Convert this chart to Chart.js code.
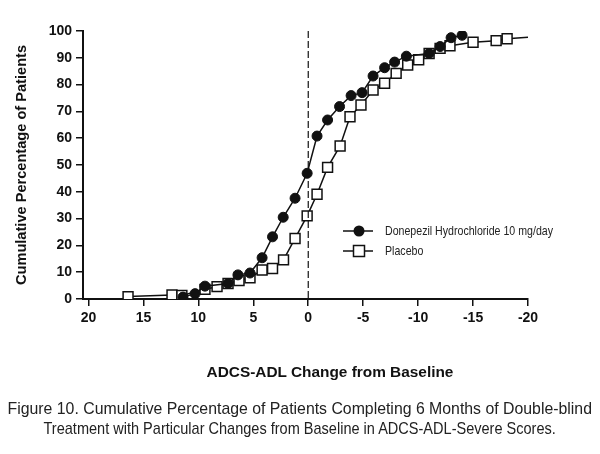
<!DOCTYPE html>
<html>
<head>
<meta charset="utf-8">
<script src="https://cdn.jsdelivr.net/npm/chart.js@4/dist/chart.umd.min.js"></script>
<style>
    html, body { margin: 0; padding: 0; background: #fff; }
    #wrap { position: relative; width: 600px; height: 454px; overflow: hidden; }
    #chart { position: absolute; left: 0; top: 0; }
    .xtitle {
        position: absolute; left: 0; top: 363px; width: 660px;
        text-align: center; font: bold 15.4px "Liberation Sans", Arial, sans-serif; color: #111;
    }
    .caption {
        position: absolute; left: -200px; top: 399px; width: 1000px;
        text-align: center; line-height: 22px; color: #222;
        font: 17px "Liberation Sans", Arial, sans-serif;
    }
    .caption span { display: inline-block; white-space: nowrap; transform-origin: 50% 50%; }
</style>
</head>
<body>
<div id="wrap">
    <canvas id="chart" width="600" height="454"></canvas>
    <div class="xtitle">ADCS-ADL Change from Baseline</div>
    <div class="caption"><span id="cap1">Figure 10. Cumulative Percentage of Patients Completing 6 Months of Double-blind</span><br><span id="cap2">Treatment with Particular Changes from Baseline in ADCS-ADL-Severe Scores.</span></div>
</div>
<script>
// Values (x = change from baseline, y = cumulative %)
var donepezilX = [11.4, 10.3, 9.4, 7.3, 6.4, 5.3, 4.2, 3.25, 2.28, 1.2, 0.1, -0.8, -1.76, -2.85, -3.9, -4.9, -5.9, -6.95, -7.86, -8.93, -11.0, -12.0, -13.0, -14.0];
var donepezilY = [0.7, 2.0, 4.8, 5.8, 9.0, 9.7, 15.4, 23.2, 30.5, 37.6, 46.9, 60.8, 66.8, 71.8, 75.9, 77.0, 83.2, 86.3, 88.4, 90.6, 91.6, 94.2, 97.5, 98.4];

var placeboX = [16.4, 12.4, 11.5, 9.4, 8.3, 7.3, 6.3, 5.3, 4.2, 3.25, 2.25, 1.2, 0.1, -0.8, -1.76, -2.9, -3.8, -4.8, -5.9, -6.95, -8.0, -9.05, -10.05, -11.0, -12.0, -12.9, -15.0, -17.1, -18.1, -20.0];
var placeboY = [0.9, 1.5, 1.3, 3.6, 4.6, 5.8, 6.9, 7.9, 10.8, 11.4, 14.6, 22.6, 31.0, 39.1, 49.1, 57.1, 68.0, 72.4, 78.0, 80.5, 84.2, 87.3, 89.3, 91.6, 93.5, 94.5, 95.8, 96.4, 97.1, 97.7];

var legendLabels = ['Donepezil Hydrochloride 10 mg/day', 'Placebo'];

var xTicksStep = 5;
var yTicksStep = 10;

(function () {
    'use strict';

    function toPoints(xs, ys) {
        return xs.map(function (x, i) { return { x: x, y: ys[i] }; });
    }

    // squeeze caption lines into the narrow look of the original
    var cap1 = document.getElementById('cap1');
    var cap2 = document.getElementById('cap2');
    cap1.style.transform = 'scaleX(' + (584 / cap1.offsetWidth) + ')';
    cap2.style.transform = 'scaleX(' + (512 / cap2.offsetWidth) + ')';

    var INK = '#111';
    var tickFont = { family: '"Liberation Sans", Arial, sans-serif', size: 14, weight: 'bold' };

    // dashed reference line at zero change + legend
    var extras = {
        id: 'extras',
        afterDatasetsDraw: function (chart) {
            var ctx = chart.ctx;
            var area = chart.chartArea;
            var x0 = chart.scales.x.getPixelForValue(0);
            ctx.save();
            ctx.strokeStyle = INK;
            ctx.lineWidth = 1.2;
            ctx.setLineDash([7, 3]);
            ctx.beginPath();
            ctx.moveTo(x0, area.top);
            ctx.lineTo(x0, area.bottom);
            ctx.stroke();
            ctx.restore();
        },
        afterDraw: function (chart) {
            var ctx = chart.ctx;
            var rows = [231, 251];
            ctx.save();
            ctx.strokeStyle = INK;
            ctx.lineWidth = 1.5;
            rows.forEach(function (y, i) {
                ctx.beginPath();
                ctx.moveTo(343, y);
                ctx.lineTo(373, y);
                ctx.stroke();
                ctx.beginPath();
                if (i === 0) {
                    ctx.fillStyle = INK;
                    ctx.arc(359, y, 5.5, 0, Math.PI * 2);
                    ctx.fill();
                } else {
                    ctx.fillStyle = '#fff';
                    ctx.rect(353.5, y - 5.5, 11, 11);
                    ctx.fill();
                    ctx.stroke();
                }
                // narrow text: draw scaled horizontally
                ctx.save();
                ctx.translate(385, y);
                ctx.scale(0.78, 1);
                ctx.fillStyle = '#222';
                ctx.font = '13.6px "Liberation Sans", Arial, sans-serif';
                ctx.textBaseline = 'middle';
                ctx.fillText(legendLabels[i], 0, 0);
                ctx.restore();
            });
            ctx.restore();
        }
    };

    var lastPlacebo = placeboX.length - 1;

    var config = {
        type: 'line',
        data: {
            datasets: [{
                label: legendLabels[0],
                data: toPoints(donepezilX, donepezilY),
                order: 0,
                borderColor: INK,
                backgroundColor: INK,
                borderWidth: 1.5,
                pointStyle: 'circle',
                pointRadius: 5,
                pointBorderWidth: 1,
                tension: 0
            }, {
                label: legendLabels[1],
                data: toPoints(placeboX, placeboY),
                order: 1,
                borderColor: INK,
                backgroundColor: '#fff',
                borderWidth: 1.5,
                pointStyle: 'rect',
                pointRadius: function (c) { return c.dataIndex === lastPlacebo ? 0 : 7; },
                pointBorderWidth: 1.5,
                tension: 0
            }]
        },
        options: {
            responsive: false,
            animation: false,
            events: [],
            layout: { padding: { left: 0, right: 72, top: 31, bottom: 125 } },
            plugins: { legend: { display: false }, tooltip: { enabled: false } },
            scales: {
                x: {
                    type: 'linear',
                    reverse: true,
                    min: -20,
                    max: 20.5,
                    border: { color: INK, width: 2 },
                    grid: { drawOnChartArea: false, color: INK, lineWidth: 1.5, tickLength: 7 },
                    ticks: { stepSize: xTicksStep, includeBounds: false, color: INK, font: tickFont, padding: 4, maxRotation: 0 },
                    afterFit: function (s) { s.height = 30; }
                },
                y: {
                    min: 0,
                    max: 100,
                    border: { color: INK, width: 2 },
                    grid: { drawOnChartArea: false, color: INK, lineWidth: 1.5, tickLength: 7 },
                    ticks: { stepSize: yTicksStep, color: INK, font: tickFont, padding: 4 },
                    title: {
                        display: true,
                        text: 'Cumulative Percentage of Patients',
                        color: INK,
                        font: { family: '"Liberation Sans", Arial, sans-serif', size: 14.6, weight: 'bold' },
                        padding: { top: 13, bottom: 0 }
                    },
                    afterFit: function (s) { s.width = 83; }
                }
            }
        },
        plugins: [extras]
    };

    new Chart(document.getElementById('chart'), config);
}());
</script>
</body>
</html>
